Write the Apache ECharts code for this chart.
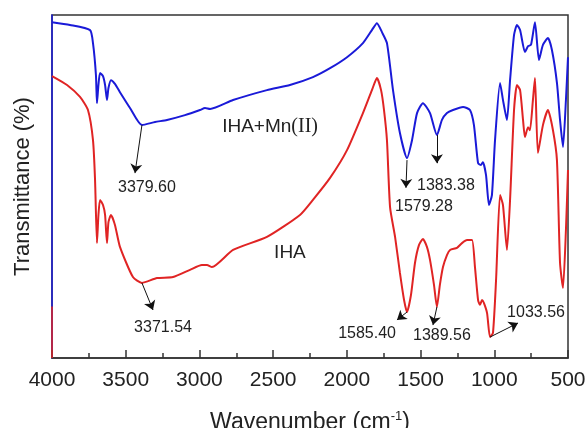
<!DOCTYPE html>
<html>
<head>
<meta charset="utf-8">
<script src="https://cdn.jsdelivr.net/npm/echarts@6/dist/echarts.min.js"></script>
<style>
  html, body { margin: 0; padding: 0; background: #fff; }
  #ftirChart { width: 587px; height: 428px; }
</style>
</head>
<body>
<div id="ftirChart"></div>
<script>
// wavenumber (cm-1), transmittance (arbitrary units, 0-100)
const waveMn = [4000, 3878, 3742, 3722, 3702, 3695, 3685, 3674, 3654, 3640, 3627, 3617, 3600, 3573, 3539, 3471, 3390, 3301, 3220, 3098, 2996, 2962, 2928, 2772, 2542, 2386, 2230, 2114, 1999, 1891, 1830, 1796, 1762, 1728, 1687, 1640, 1592, 1558, 1524, 1484, 1436, 1389, 1355, 1321, 1280, 1212, 1165, 1138, 1110, 1090, 1077, 1056, 1036, 1016, 995, 961, 941, 914, 893, 866, 846, 825, 792, 771, 751, 724, 697, 670, 636, 609, 575, 554, 534, 514, 500];
const transMn = [97.9, 97.1, 95.6, 91.8, 82.5, 74.3, 79.6, 83.1, 82.2, 79.6, 75.2, 78.7, 81.0, 79.9, 77.5, 72.9, 67.9, 68.8, 69.4, 70.8, 72.3, 72.9, 72.6, 75.2, 78.1, 79.6, 81.9, 84.5, 87.7, 91.8, 95.6, 97.6, 95.0, 91.8, 78.1, 65.6, 58.3, 63.5, 71.4, 74.3, 71.4, 65.0, 69.4, 71.4, 72.3, 73.2, 72.3, 67.9, 56.8, 56.3, 57.1, 53.3, 44.6, 47.5, 63.5, 80.2, 75.2, 69.4, 81.0, 94.2, 97.1, 95.6, 89.2, 90.9, 91.3, 97.9, 86.9, 91.3, 93.3, 89.8, 80.2, 69.4, 61.5, 75.2, 87.7];

const waveIHA = [4000, 3898, 3810, 3756, 3722, 3708, 3695, 3685, 3674, 3654, 3640, 3627, 3617, 3600, 3573, 3539, 3451, 3390, 3288, 3179, 3064, 2983, 2949, 2915, 2772, 2542, 2318, 2230, 2114, 1999, 1891, 1830, 1796, 1768, 1748, 1728, 1707, 1673, 1640, 1612, 1592, 1565, 1538, 1511, 1484, 1457, 1436, 1409, 1389, 1369, 1348, 1321, 1300, 1253, 1219, 1185, 1151, 1131, 1110, 1097, 1083, 1070, 1049, 1029, 1009, 988, 961, 941, 914, 893, 866, 846, 825, 805, 792, 771, 758, 738, 724, 704, 670, 636, 602, 575, 554, 534, 514, 500];
const transIHA = [82.2, 79.6, 76.1, 72.3, 63.5, 51.9, 33.5, 41.7, 46.1, 44.6, 41.7, 33.5, 39.6, 41.7, 38.8, 32.4, 23.6, 21.9, 23.3, 23.6, 25.7, 27.1, 27.1, 26.5, 31.5, 35.3, 41.7, 46.1, 52.5, 60.6, 71.4, 78.1, 81.6, 78.1, 72.3, 63.5, 44.0, 35.3, 24.8, 16.9, 13.4, 18.4, 27.7, 32.9, 34.7, 32.4, 28.6, 21.3, 14.9, 21.3, 26.5, 30.0, 31.5, 32.1, 33.5, 34.4, 34.4, 26.5, 16.9, 15.5, 16.9, 16.0, 13.1, 6.1, 7.3, 22.7, 47.5, 44.6, 31.5, 46.1, 72.3, 79.6, 78.1, 69.4, 64.4, 67.3, 66.4, 75.2, 81.6, 59.8, 67.9, 72.3, 66.4, 57.7, 27.7, 20.4, 37.3, 54.8];

const xTicks = [4000, 3500, 3000, 2500, 2000, 1500, 1000, 500];

// peak annotations: text, arrow start (on curve), arrow tip, text centre
const peaksMn = ['3379.60', '1579.28', '1383.38'];
const peaksMnFrom = [[3390, 67.9], [1592, 57.7], [1389, 65.0]];
const peaksMnTo = [[3437, 53.9], [1599, 49.6], [1389, 56.8]];
const peaksMnText = [[3356, 49.6], [1477, 44.0], [1328, 50.4]];

const peaksIHA = ['3371.54', '1585.40', '1389.56', '1033.56'];
const peaksIHAFrom = [[3390, 21.9], [1592, 13.4], [1389, 14.9], [1029, 6.1]];
const peaksIHATo = [[3315, 14.0], [1660, 11.1], [1416, 9.6], [839, 10.2]];
const peaksIHAText = [[3247, 9.0], [1863, 7.0], [1355, 6.4], [717, 13.1]];

const FONT = 'Liberation Sans, Arial, sans-serif';

function zip(xs, ys) {
  return xs.map((x, i) => [x, ys[i]]);
}

function arrows(from, to) {
  return from.map((p, i) => [{coord: p}, {coord: to[i]}]);
}

function peakTexts(labels, pos) {
  return labels.map((t, i) => ({
    coord: pos[i],
    value: t,
    symbol: 'circle',
    symbolSize: 1,
    itemStyle: {color: 'rgba(0,0,0,0)'},
    label: {show: true, position: 'inside', formatter: t, fontSize: 16, color: '#222', fontFamily: FONT}
  }));
}

let option = {
  animation: false,
  backgroundColor: '#fff',
  grid: {
    left: 52,
    right: 19,
    top: 15,
    bottom: 70,
    outerBoundsMode: 'none',
    show: true,
    borderColor: '#333',
    borderWidth: 1.5
  },
  xAxis: {
    type: 'value',
    inverse: true,
    min: 500,
    max: 4000,
    interval: 500,
    name: 'Wavenumber (cm{sup|-1})',
    nameLocation: 'middle',
    nameGap: 52,
    nameTextStyle: {
      fontSize: 23, color: '#222', fontFamily: FONT,
      rich: {sup: {fontSize: 13, color: '#222', fontFamily: FONT, padding: [0, 0, 12, 0]}}
    },
    axisLine: {lineStyle: {color: '#333', width: 1.5}},
    axisTick: {inside: true, length: 8, lineStyle: {color: '#333', width: 1.5}},
    minorTick: {show: true, splitNumber: 2, length: 5, lineStyle: {color: '#333', width: 1.5}},
    axisLabel: {
      fontSize: 21, color: '#222', fontFamily: FONT, margin: 12,
      formatter: v => xTicks.includes(v) ? String(v) : ''
    },
    splitLine: {show: false}
  },
  yAxis: {
    type: 'value',
    min: 0,
    max: 100,
    name: 'Transmittance (%)',
    nameLocation: 'middle',
    nameGap: 18,
    nameTextStyle: {fontSize: 22, color: '#222', fontFamily: FONT},
    axisLine: {show: true, lineStyle: {color: '#1a1ad8', width: 1.5}},
    axisTick: {show: false},
    axisLabel: {show: false},
    splitLine: {show: false}
  },
  series: [
    {
      name: 'IHA+Mn(II)',
      type: 'line',
      data: zip(waveMn, transMn),
      showSymbol: false,
      smooth: 0.2,
      lineStyle: {color: '#1a1ad8', width: 2},
      markLine: {
        silent: true,
        symbol: ['none', 'arrow'],
        symbolSize: 9,
        label: {show: false},
        lineStyle: {color: '#111', width: 1, type: 'solid'},
        data: arrows(peaksMnFrom, peaksMnTo)
      },
      markPoint: {
        silent: true,
        data: peakTexts(peaksMn, peaksMnText).concat([{
          coord: [2521, 67.3],
          symbol: 'circle',
          symbolSize: 1,
          itemStyle: {color: 'rgba(0,0,0,0)'},
          label: {
            show: true, position: 'inside',
            formatter: '{a|IHA+Mn}{b|(II)}',
            rich: {
              a: {fontSize: 19, color: '#222', fontFamily: FONT},
              b: {fontSize: 20, color: '#222', fontFamily: 'Liberation Serif, Times New Roman, serif'}
            }
          }
        }])
      }
    },
    {
      name: 'IHA',
      type: 'line',
      data: zip(waveIHA, transIHA),
      showSymbol: false,
      smooth: 0.2,
      lineStyle: {color: '#e02424', width: 2},
      markLine: {
        silent: true,
        symbol: ['none', 'arrow'],
        symbolSize: 9,
        label: {show: false},
        lineStyle: {color: '#111', width: 1, type: 'solid'},
        data: arrows(peaksIHAFrom, peaksIHATo).concat([[
          {coord: [4000, 0], symbol: 'none', lineStyle: {color: '#e02424', width: 1.5}},
          {coord: [4000, 15], symbol: 'none'}
        ]])
      },
      markPoint: {
        silent: true,
        data: peakTexts(peaksIHA, peaksIHAText).concat([{
          coord: [2386, 30.6],
          symbol: 'circle',
          symbolSize: 1,
          itemStyle: {color: 'rgba(0,0,0,0)'},
          label: {show: true, position: 'inside', formatter: 'IHA', fontSize: 19, color: '#222', fontFamily: FONT}
        }])
      }
    }
  ]
};

let myChart = echarts.init(document.getElementById('ftirChart'));
myChart.setOption(option);
</script>
</body>
</html>
